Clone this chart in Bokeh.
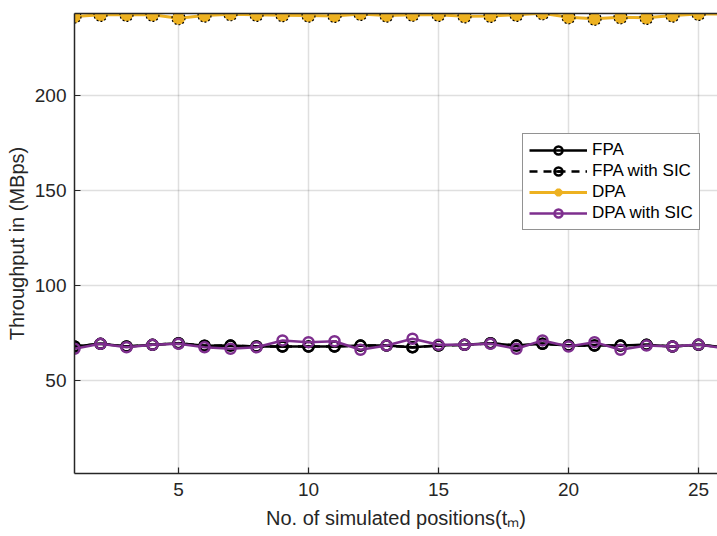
from bokeh.plotting import figure
from bokeh.models import Range1d, FixedTicker, LinearAxis, Legend, LegendItem, ColumnDataSource
from bokeh.embed import file_html
from bokeh.resources import INLINE

positions = list(range(1, 27))
fpa = [67.9, 69.3, 67.9, 68.8, 69.6, 68.3, 68.4, 67.9, 67.9, 67.9, 67.9, 68.4, 68.4,
       67.5, 68.4, 68.8, 69.6, 68.4, 69.3, 68.4, 68.4, 68.4, 68.8, 67.9, 68.8, 67.5]
fpa_sic = [67.9, 69.3, 67.9, 68.8, 69.6, 68.3, 68.4, 67.9, 67.9, 67.9, 67.9, 68.4, 68.4,
           67.5, 68.4, 68.8, 69.6, 68.4, 69.3, 68.4, 68.4, 68.4, 68.8, 67.9, 68.8, 67.5]
dpa = [241.6, 242.5, 242.5, 242.5, 240.7, 242.1, 242.8, 242.5, 242.3, 242.1, 241.9, 243.0, 242.1,
       242.5, 242.5, 241.7, 241.9, 242.5, 243.3, 241.2, 240.4, 241.2, 240.9, 242.1, 243.0, 243.0]
dpa_sic = [66.7, 69.3, 67.5, 68.8, 69.3, 67.5, 66.7, 67.5, 71.1, 70.2, 70.7, 66.2, 68.4,
           72.0, 68.8, 68.8, 69.3, 66.7, 71.1, 67.9, 70.2, 66.2, 68.4, 67.9, 68.9, 67.0]
x_ticks = [5, 10, 15, 20, 25]
y_ticks = [50, 100, 150, 200]
series_names = ["FPA", "FPA with SIC", "DPA", "DPA with SIC"]

FONT = "Liberation Sans"
AX = "#262626"
ORANGE = "#EDB120"
PURPLE = "#7E2F8E"

src = ColumnDataSource(dict(x=positions, fpa=fpa, fpa_sic=fpa_sic, dpa=dpa, dpa_sic=dpa_sic))

p = figure(width=717, height=536, x_range=Range1d(1, 25.73), y_range=Range1d(1.05, 243.2),
           output_backend="svg", toolbar_location=None,
           min_border_left=74, min_border_right=0, min_border_top=13, min_border_bottom=63)
p.outline_line_color = None
p.background_fill_color = "white"
p.border_fill_color = "white"

bottom_axis = p.below[0]
left_axis = p.left[0]

# top box edge
top_axis = LinearAxis(ticker=FixedTicker(ticks=[]), major_label_text_font_size="0px",
                      major_tick_in=0, major_tick_out=0, minor_tick_in=0, minor_tick_out=0,
                      axis_line_color=AX, axis_line_width=1.5, major_label_standoff=0)
p.add_layout(top_axis, "above")

for ax, ticks in ((bottom_axis, x_ticks), (left_axis, y_ticks)):
    ax.ticker = FixedTicker(ticks=ticks)
    ax.axis_line_color = AX
    ax.axis_line_width = 1.5
    ax.major_tick_line_color = AX
    ax.major_tick_line_width = 1.2
    ax.major_tick_in = 6
    ax.major_tick_out = 0
    ax.minor_tick_in = 0
    ax.minor_tick_out = 0
    ax.major_label_text_font = FONT
    ax.major_label_text_font_size = "19px"
    ax.major_label_text_color = AX
    ax.axis_label_text_font = FONT
    ax.axis_label_text_font_size = "20px"
    ax.axis_label_text_font_style = "normal"
    ax.axis_label_text_color = AX

bottom_axis.major_label_standoff = 9
left_axis.major_label_standoff = 8
bottom_axis.axis_label = "No. of simulated positions(tₘ)"
bottom_axis.axis_label_standoff = 8
left_axis.axis_label = "Throughput in (MBps)"
left_axis.axis_label_standoff = 4

for g in (p.xgrid[0], p.ygrid[0]):
    g.grid_line_color = AX
    g.grid_line_alpha = 0.15
    g.grid_line_width = 1.5
p.xgrid[0].ticker = FixedTicker(ticks=x_ticks)
p.ygrid[0].ticker = FixedTicker(ticks=y_ticks)

# FPA
l1 = p.line("x", "fpa", source=src, line_color="black", line_width=2.5)
m1 = p.scatter("x", "fpa", source=src, marker="circle", size=10, fill_color=None,
               line_color="black", line_width=2.5)
# FPA with SIC
l2 = p.line("x", "fpa_sic", source=src, line_color="black", line_width=2.5, line_dash="8 6")
m2 = p.scatter("x", "fpa_sic", source=src, marker="circle", size=10, fill_color=None,
               line_color="black", line_width=2.5)
m2b = p.scatter("x", "fpa_sic", source=src, marker="dash", size=10,
                line_color="black", line_width=2.5)
# DPA
l3 = p.line("x", "dpa", source=src, line_color=ORANGE, line_width=3)
m3a = p.scatter("x", "dpa", source=src, marker="asterisk", size=10,
                line_color=ORANGE, line_width=3.5)
m3 = p.scatter("x", "dpa", source=src, marker="circle", size=13, fill_color=ORANGE,
               line_color="black", line_width=1.2, line_dash="2 2")
# DPA with SIC
l4 = p.line("x", "dpa_sic", source=src, line_color=PURPLE, line_width=2.5)
m4 = p.scatter("x", "dpa_sic", source=src, marker="circle", size=10, fill_color=None,
               line_color=PURPLE, line_width=2.5)

legend = Legend(items=[
    LegendItem(label=series_names[0], renderers=[l1, m1]),
    LegendItem(label=series_names[1], renderers=[l2, m2, m2b]),
    LegendItem(label=series_names[2], renderers=[l3, m3a]),
    LegendItem(label=series_names[3], renderers=[l4, m4]),
], location=(448, 243))
legend.glyph_width = 58
legend.glyph_height = 20
legend.label_height = 20
legend.label_standoff = 5
legend.spacing = 1
legend.padding = 6
legend.margin = 0
legend.label_text_font = FONT
legend.label_text_font_size = "17px"
legend.label_text_color = "black"
legend.border_line_color = AX
legend.border_line_width = 1
legend.background_fill_color = "white"
legend.background_fill_alpha = 1
p.add_layout(legend)

open("out.html", "w").write(file_html(p, INLINE))
